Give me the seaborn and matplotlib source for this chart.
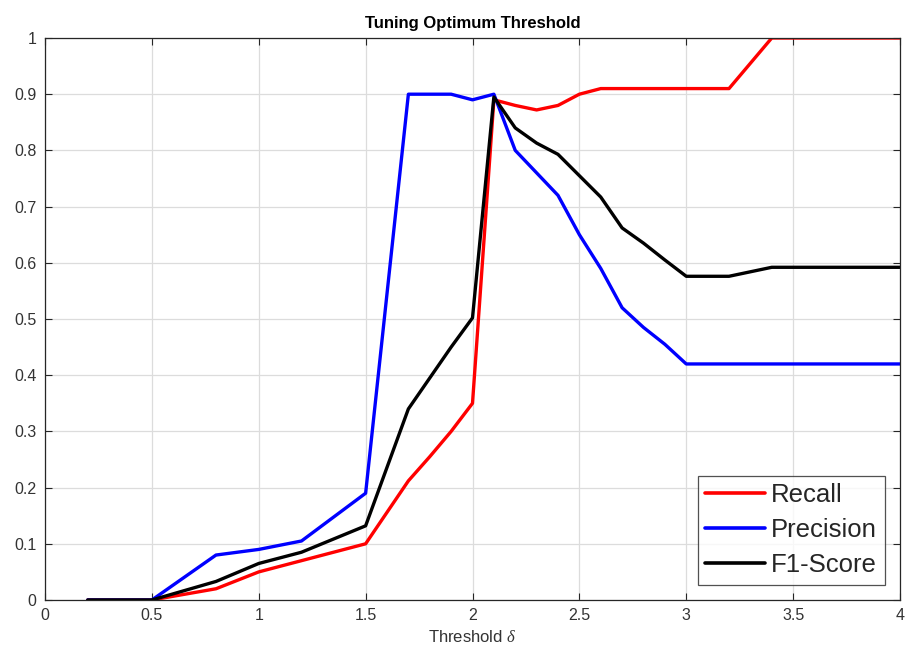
import numpy as np
import pandas as pd
import matplotlib
matplotlib.use("Agg")
import matplotlib.pyplot as plt
import seaborn as sns

thresholds = [0.2, 0.5, 0.8, 1.0, 1.2, 1.5, 1.7, 1.8, 1.9, 2.0, 2.1, 2.2, 2.3, 2.4,
              2.5, 2.6, 2.7, 2.8, 2.9, 3.0, 3.2, 3.4, 4.0]
recall = [0.0, 0.0, 0.02, 0.05, 0.07, 0.10, 0.212, 0.255, 0.30, 0.35, 0.89, 0.88, 0.872,
          0.88, 0.90, 0.91, 0.91, 0.91, 0.91, 0.91, 0.91, 1.0, 1.0]
precision = [0.0, 0.0, 0.08, 0.09, 0.105, 0.19, 0.90, 0.90, 0.90, 0.89, 0.90, 0.80, 0.76,
             0.72, 0.65, 0.59, 0.52, 0.485, 0.455, 0.42, 0.42, 0.42, 0.42]
f1 = [0.0, 0.0, 0.033, 0.065, 0.085, 0.132, 0.34, 0.395, 0.45, 0.502, 0.895, 0.84, 0.813,
      0.793, 0.755, 0.717, 0.662, 0.635, 0.605, 0.576, 0.576, 0.592, 0.592]
series_names = ["Recall", "Precision", "F1-Score"]
series_colors = ["#ff0000", "#0000ff", "#000000"]
x_ticks = [0, 0.5, 1, 1.5, 2, 2.5, 3, 3.5, 4]
y_ticks = [0, 0.1, 0.2, 0.3, 0.4, 0.5, 0.6, 0.7, 0.8, 0.9, 1]

df = pd.concat([
    pd.DataFrame({"Threshold": thresholds, "Value": vals, "Metric": name})
    for name, vals in zip(series_names, [recall, precision, f1])
], ignore_index=True)

sns.set_theme(style="whitegrid")
plt.rcParams['font.family'] = ['Liberation Sans', 'DejaVu Sans']
plt.rcParams['mathtext.fontset'] = 'custom'
plt.rcParams['mathtext.it'] = 'Liberation Serif:italic'

fig = plt.figure(figsize=(9.06, 6.6), dpi=100)
ax = fig.add_axes([45/906, 60/660, 855/906, 562/660])

sns.lineplot(data=df, x="Threshold", y="Value", hue="Metric",
             palette=dict(zip(series_names, series_colors)), linewidth=2.4,
             ax=ax, sort=False, estimator=None)

ax.set_xlim(0, 4)
ax.set_ylim(0, 1)
ax.set_xticks(x_ticks)
ax.set_xticklabels([f"{t:g}" for t in x_ticks])
ax.set_yticks(y_ticks)
ax.set_yticklabels([f"{t:g}" for t in y_ticks])
ax.grid(True, color="#dcdcdc", linewidth=0.9)
ax.set_facecolor("white")
for s in ax.spines.values():
    s.set_color("#262626")
    s.set_linewidth(0.9)
ax.tick_params(axis="both", direction="in", length=5, width=0.8, color="#262626",
               labelsize=11.5, labelcolor="#333333", top=True, right=True,
               bottom=True, left=True, pad=6)
ax.set_title("Tuning Optimum Threshold", fontsize=12, fontweight="bold", pad=7,
             color="black")
ax.set_xlabel(r"Threshold $\delta$", fontsize=12, color="#333333", labelpad=4)
ax.set_ylabel("")

leg = ax.legend(loc="lower right", fontsize=18.5, frameon=True, fancybox=False,
                edgecolor="#262626", borderpad=0.3, handlelength=2.3,
                handletextpad=0.25, labelspacing=0.42, borderaxespad=0.6)
leg.get_frame().set_linewidth(0.9)
for line in leg.get_lines():
    line.set_linewidth(2.6)

fig.savefig("out.png", dpi=100, facecolor="white")
